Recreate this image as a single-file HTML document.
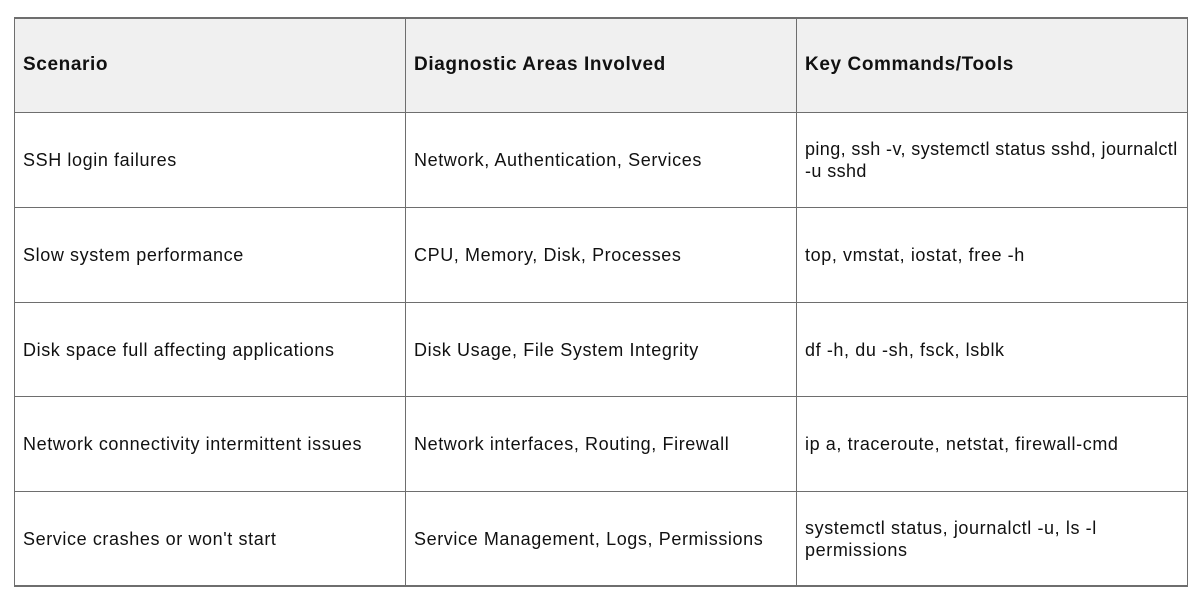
<!DOCTYPE html>
<html><head><style>
body{margin:0;width:1200px;height:600px;background:#fff;font-family:"Liberation Sans",sans-serif;color:#111;position:relative;overflow:hidden}
.h{position:absolute;left:14px;top:18px;width:1174px;height:95px;background:#f0f0f0}
.l{position:absolute;background:#6e6e6e}
.t{position:absolute;font-size:18px;letter-spacing:0.6px;line-height:22px;width:380px;white-space:nowrap}
.b{font-weight:bold;font-size:19px;letter-spacing:0.6px}
</style></head><body>
<div class="h"></div>
<div class="l" style="left:14px;top:17px;width:1174px;height:2px"></div>
<div class="l" style="left:14px;top:112px;width:1174px;height:1px"></div>
<div class="l" style="left:14px;top:207px;width:1174px;height:1px"></div>
<div class="l" style="left:14px;top:302px;width:1174px;height:1px"></div>
<div class="l" style="left:14px;top:396px;width:1174px;height:1px"></div>
<div class="l" style="left:14px;top:491px;width:1174px;height:1px"></div>
<div class="l" style="left:14px;top:585px;width:1174px;height:2px"></div>
<div class="l" style="left:14px;top:17px;width:1px;height:570px"></div>
<div class="l" style="left:405px;top:17px;width:1px;height:570px"></div>
<div class="l" style="left:796px;top:17px;width:1px;height:570px"></div>
<div class="l" style="left:1187px;top:17px;width:1px;height:570px"></div>

<div class="t b" style="left:23px;top:54px">Scenario</div>
<div class="t b" style="left:414px;top:54px">Diagnostic Areas Involved</div>
<div class="t b" style="left:805px;top:54px">Key Commands/Tools</div>

<div class="t" style="left:23px;top:149px">SSH login failures</div>
<div class="t" style="left:414px;top:149px">Network, Authentication, Services</div>
<div class="t" style="left:805px;top:138px;letter-spacing:0.4px">ping, ssh -v, systemctl status sshd, journalctl<br>-u sshd</div>

<div class="t" style="left:23px;top:244px">Slow system performance</div>
<div class="t" style="left:414px;top:244px">CPU, Memory, Disk, Processes</div>
<div class="t" style="left:805px;top:244px">top, vmstat, iostat, free -h</div>

<div class="t" style="left:23px;top:339px">Disk space full affecting applications</div>
<div class="t" style="left:414px;top:339px">Disk Usage, File System Integrity</div>
<div class="t" style="left:805px;top:339px">df -h, du -sh, fsck, lsblk</div>

<div class="t" style="left:23px;top:433px">Network connectivity intermittent issues</div>
<div class="t" style="left:414px;top:433px">Network interfaces, Routing, Firewall</div>
<div class="t" style="left:805px;top:433px">ip a, traceroute, netstat, firewall-cmd</div>

<div class="t" style="left:23px;top:528px">Service crashes or won't start</div>
<div class="t" style="left:414px;top:528px">Service Management, Logs, Permissions</div>
<div class="t" style="left:805px;top:517px">systemctl status, journalctl -u, ls -l<br>permissions</div>
</body></html>
